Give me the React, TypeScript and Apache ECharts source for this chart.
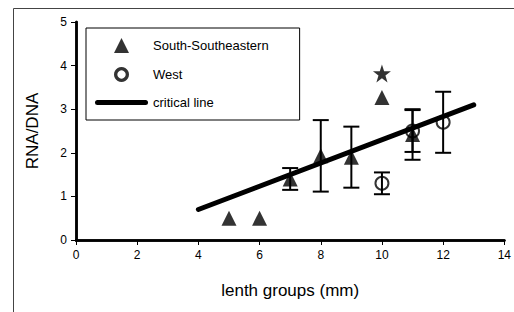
import React, { useEffect, useRef } from "react";
import * as echarts from "echarts";

// ---- data ----
const sseX = [5, 6, 7, 8, 9, 10, 11];
const sseY = [0.5, 0.5, 1.4, 1.93, 1.9, 3.27, 2.42];
const sseErr = [0, 0, 0.25, 0.82, 0.7, 0, 0.58];

const westX = [10, 11, 12];
const westY = [1.3, 2.5, 2.7];
const westErr = [0.25, 0.48, 0.7];

const starX = [10];
const starY = [3.82];

const critX = [4, 13];
const critY = [0.7, 3.1];

const xTicks = [0, 2, 4, 6, 8, 10, 12, 14];
const yTicks = [0, 1, 2, 3, 4, 5];

const FONT = "'Liberation Sans', Arial, sans-serif";

export default function App() {
  const ref = useRef<HTMLDivElement>(null);
  useEffect(() => {
    if (!ref.current) return;
    const chart = echarts.init(ref.current, undefined, { renderer: "svg" });

    const pts = (xs: number[], ys: number[]) => xs.map((x, i) => [x, ys[i]]);
    const errs = (xs: number[], ys: number[], es: number[]) =>
      xs
        .map((x, i) => [x, ys[i] - es[i], ys[i] + es[i]])
        .filter((_, i) => es[i] > 0);

    const renderErr = (params: any, api: any) => {
      const x = api.value(0);
      const lo = api.coord([x, api.value(1)]);
      const hi = api.coord([x, api.value(2)]);
      const hw = 8;
      const st = { stroke: "#000", lineWidth: 2 };
      return {
        type: "group",
        children: [
          { type: "line", shape: { x1: lo[0], y1: lo[1], x2: hi[0], y2: hi[1] }, style: st },
          { type: "line", shape: { x1: lo[0] - hw, y1: lo[1], x2: lo[0] + hw, y2: lo[1] }, style: st },
          { type: "line", shape: { x1: hi[0] - hw, y1: hi[1], x2: hi[0] + hw, y2: hi[1] }, style: st },
        ],
      };
    };

    const frameAxis = { show: true, lineStyle: { color: "#000", width: 2.5 } };

    chart.setOption({
      animation: false,
      backgroundColor: "#fff",
      textStyle: { fontFamily: FONT, color: "#000" },
      graphic: [
        {
          type: "rect",
          x: 13.5,
          y: 8.5,
          shape: { x: 0, y: 0, width: 600, height: 400 },
          style: { fill: "none", stroke: "#444", lineWidth: 1 },
          silent: true,
          z: -10,
        },
      ],
      grid: {
        left: 76,
        right: 8,
        top: 22,
        bottom: 72,
        show: true,
        borderColor: "#000",
        borderWidth: 0,
        backgroundColor: "#fff",
      },
      legend: {
        orient: "vertical",
        left: 86,
        top: 28,
        padding: [10, 31, 11, 9],
        itemWidth: 53,
        itemHeight: 15,
        itemGap: 14,
        symbolKeepAspect: true,
        backgroundColor: "#fff",
        borderColor: "#000",
        borderWidth: 1,
        textStyle: { fontFamily: FONT, fontSize: 13, color: "#000" },
        data: [
          { name: "South-Southeastern", icon: "path://M50,0 L100,100 L0,100 Z" },
          {
            name: "West",
            icon: "path://M50,5 A45,45 0 1 1 49.9,5 Z M50,25 A25,25 0 1 0 50.1,25 Z",
            itemStyle: { color: "#000", borderWidth: 0 },
          },
          { name: "critical line", icon: "path://M2.5,0 L50.5,0 A2.5,2.5 0 0 1 50.5,5 L2.5,5 A2.5,2.5 0 0 1 2.5,0 Z" },
        ],
      },
      xAxis: [
        {
          type: "value",
          min: xTicks[0],
          max: xTicks[xTicks.length - 1],
          interval: 2,
          name: "lenth groups (mm)",
          nameLocation: "middle",
          nameGap: 42,
          nameTextStyle: { fontFamily: FONT, fontSize: 17, color: "#000" },
          splitLine: { show: false },
          axisLine: { lineStyle: { color: "#000", width: 2.5 } },
          axisTick: { show: true, inside: false, length: 5, lineStyle: { color: "#000", width: 1 } },
          axisLabel: { fontFamily: FONT, fontSize: 12, color: "#000", margin: 9 },
        },
        {
          type: "value",
          position: "top",
          min: xTicks[0],
          max: xTicks[xTicks.length - 1],
          interval: 2,
          axisLine: frameAxis,
          axisTick: { show: false },
          axisLabel: { show: false },
          splitLine: { show: false },
        },
      ],
      yAxis: [
        {
          type: "value",
          min: yTicks[0],
          max: yTicks[yTicks.length - 1],
          interval: 1,
          name: "RNA/DNA",
          nameLocation: "middle",
          nameGap: 35,
          nameTextStyle: { fontFamily: FONT, fontSize: 17, color: "#000" },
          splitLine: { show: false },
          axisLine: { show: true, lineStyle: { color: "#000", width: 2.5 } },
          axisTick: { show: true, inside: false, length: 5, lineStyle: { color: "#000", width: 1 } },
          axisLabel: { fontFamily: FONT, fontSize: 12, color: "#000", margin: 9 },
        },
        {
          type: "value",
          position: "right",
          min: yTicks[0],
          max: yTicks[yTicks.length - 1],
          interval: 1,
          axisLine: frameAxis,
          axisTick: { show: false },
          axisLabel: { show: false },
          splitLine: { show: false },
        },
      ],
      series: [
        {
          name: "critical line",
          type: "line",
          data: pts(critX, critY),
          symbol: "none",
          showSymbol: false,
          lineStyle: { color: "#000", width: 5, cap: "round" },
          itemStyle: { color: "#000" },
          z: 3,
        },
        {
          name: "errSSE",
          type: "custom",
          data: errs(sseX, sseY, sseErr),
          renderItem: renderErr,
          encode: { x: 0, y: [1, 2] },
          z: 2,
        },
        {
          name: "errWest",
          type: "custom",
          data: errs(westX, westY, westErr),
          renderItem: renderErr,
          encode: { x: 0, y: [1, 2] },
          z: 2,
        },
        {
          name: "West",
          type: "scatter",
          data: pts(westX, westY),
          symbol: "circle",
          symbolSize: 13,
          itemStyle: { color: "transparent", borderColor: "#000", borderWidth: 2 },
          z: 4,
        },
        {
          name: "South-Southeastern",
          type: "scatter",
          data: pts(sseX, sseY),
          symbol: "triangle",
          symbolSize: 15,
          itemStyle: { color: "#000" },
          z: 5,
        },
        {
          name: "star",
          type: "scatter",
          data: pts(starX, starY),
          symbol: "path://M50,0 L61.8,35.1 L98.8,35.1 L68.9,56.9 L80.2,91.9 L50,70.1 L19.8,91.9 L31.1,56.9 L1.2,35.1 L38.2,35.1 Z",
          symbolSize: 18,
          itemStyle: { color: "#000" },
          z: 5,
        },
      ],
    });
    return () => chart.dispose();
  }, []);
  return (
    <div
      ref={ref}
      style={{ position: "fixed", left: 0, top: 0, width: 514, height: 312 }}
    />
  );
}
